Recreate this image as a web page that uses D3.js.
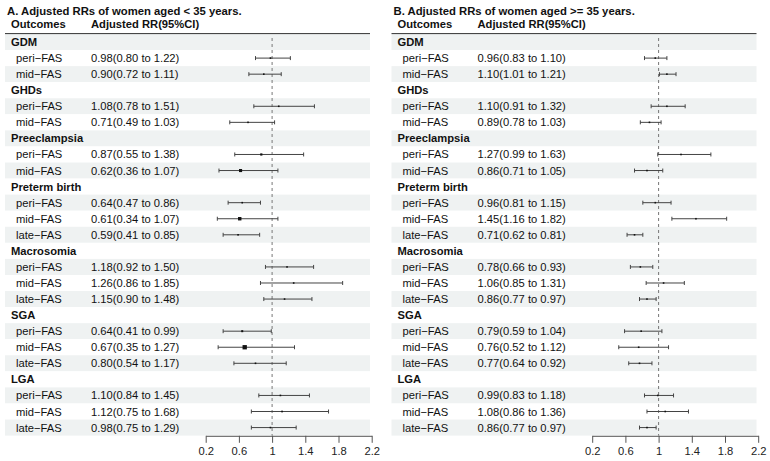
<!DOCTYPE html>
<html>
<head>
<meta charset="utf-8">
<script src="https://cdn.jsdelivr.net/npm/d3@7"></script>
<style>
  body { margin: 0; background: #fff; }
  svg text { font-family: "Liberation Sans", Arial, Helvetica, sans-serif; }
</style>
</head>
<body>
<svg id="chart" width="770" height="461"></svg>
<script>
// outcome groups and how many exposure rows sit under each
var groups = ["GDM", "GHDs", "Preeclampsia", "Preterm birth", "Macrosomia", "SGA", "LGA"];
var groupSizes = [2, 2, 2, 3, 3, 3, 3];
var exposures = ["peri\u2212FAS", "mid\u2212FAS", "late\u2212FAS"];

var titles = ["A. Adjusted RRs of women aged < 35 years.",
              "B. Adjusted RRs of women aged >= 35 years."];

// panel A: women aged < 35
var estA = [0.98, 0.90, 1.08, 0.71, 0.87, 0.62, 0.64, 0.61, 0.59, 1.18, 1.26, 1.15, 0.64, 0.67, 0.80, 1.10, 1.12, 0.98];
var lowA = [0.80, 0.72, 0.78, 0.49, 0.55, 0.36, 0.47, 0.34, 0.41, 0.92, 0.86, 0.90, 0.41, 0.35, 0.54, 0.84, 0.75, 0.75];
var upA  = [1.22, 1.11, 1.51, 1.03, 1.38, 1.07, 0.86, 1.07, 0.85, 1.50, 1.85, 1.48, 0.99, 1.27, 1.17, 1.45, 1.68, 1.29];

// panel B: women aged >= 35
var estB = [0.96, 1.10, 1.10, 0.89, 1.27, 0.86, 0.96, 1.45, 0.71, 0.78, 1.06, 0.86, 0.79, 0.76, 0.77, 0.99, 1.08, 0.86];
var lowB = [0.83, 1.01, 0.91, 0.78, 0.99, 0.71, 0.81, 1.16, 0.62, 0.66, 0.85, 0.77, 0.59, 0.52, 0.64, 0.83, 0.86, 0.77];
var upB  = [1.10, 1.21, 1.32, 1.03, 1.63, 1.05, 1.15, 1.82, 0.81, 0.93, 1.31, 0.97, 1.04, 1.12, 0.92, 1.18, 1.36, 0.97];

var tickVals = [0.2, 0.6, 1, 1.4, 1.8, 2.2];

var svg = d3.select("#chart");
var fmt = d3.format(".2f");

function buildRows(est, low, up) {
    var rows = [], k = 0;
    groups.forEach(function(g, gi) {
        rows.push({ label: g, group: true });
        for (var j = 0; j < groupSizes[gi]; j++) {
            rows.push({ label: exposures[j], est: est[k], low: low[k], up: up[k] });
            k++;
        }
    });
    return rows;
}

function drawPanel(x0, title, rows) {
    var g = svg.append("g").attr("transform", "translate(" + x0 + ",0)");
    var panelW = 365;

    var y = d3.scaleBand()
        .domain(d3.range(rows.length))
        .range([34, 435.6]);

    var x = d3.scaleLinear()
        .domain([0.2, 2.2])
        .range([200.7, 366.7]);

    // title + header
    g.append("text").attr("x", 2).attr("y", 15)
        .style("font-size", "11.3px").style("font-weight", "bold").attr("fill", "#111")
        .text(title);
    g.append("text").attr("x", 6).attr("y", 28)
        .style("font-size", "11.2px").style("font-weight", "bold").attr("fill", "#111")
        .text("Outcomes");
    g.append("text").attr("x", 86).attr("y", 28)
        .style("font-size", "11.2px").style("font-weight", "bold").attr("fill", "#111")
        .text("Adjusted RR(95%CI)");

    // alternating row background
    g.selectAll("rect.band").data(rows).enter().append("rect")
        .attr("class", "band")
        .attr("x", 0)
        .attr("y", function(d, i) { return y(i); })
        .attr("width", panelW)
        .attr("height", y.bandwidth())
        .attr("fill", function(d, i) { return i % 2 === 0 ? "#eff2f2" : "#fff"; });

    g.append("line")
        .attr("x1", 0).attr("x2", panelW)
        .attr("y1", 33.6).attr("y2", 33.6)
        .attr("stroke", "#333").attr("stroke-width", 1);

    // label columns
    g.selectAll("text.lab").data(rows).enter().append("text")
        .attr("class", "lab")
        .attr("x", function(d) { return d.group ? 6 : 11; })
        .attr("y", function(d, i) { return y(i) + y.bandwidth() / 2 + 4; })
        .style("font-size", "11.2px")
        .style("font-weight", function(d) { return d.group ? "bold" : "normal"; })
        .attr("fill", "#111")
        .text(function(d) { return d.label; });

    var data = rows.map(function(d, i) { return Object.assign({ i: i }, d); })
        .filter(function(d) { return !d.group; });

    g.selectAll("text.val").data(data).enter().append("text")
        .attr("class", "val")
        .attr("x", 86)
        .attr("y", function(d) { return y(d.i) + y.bandwidth() / 2 + 4; })
        .style("font-size", "11.2px")
        .attr("fill", "#111")
        .text(function(d) { return fmt(d.est) + "(" + fmt(d.low) + " to " + fmt(d.up) + ")"; });

    // reference line at RR = 1
    g.append("line")
        .attr("x1", x(1)).attr("x2", x(1))
        .attr("y1", 38).attr("y2", 435.6)
        .attr("stroke", "#777").attr("stroke-width", 1)
        .attr("stroke-dasharray", "3,3");

    // confidence intervals
    var ci = g.selectAll("g.ci").data(data).enter().append("g")
        .attr("class", "ci")
        .attr("transform", function(d) { return "translate(0," + (y(d.i) + y.bandwidth() / 2) + ")"; });

    ci.append("line")
        .attr("x1", function(d) { return x(d.low); })
        .attr("x2", function(d) { return x(d.up); })
        .attr("stroke", "#444").attr("stroke-width", 1);
    ci.append("line")
        .attr("x1", function(d) { return x(d.low); })
        .attr("x2", function(d) { return x(d.low); })
        .attr("y1", -2).attr("y2", 2)
        .attr("stroke", "#444").attr("stroke-width", 1);
    ci.append("line")
        .attr("x1", function(d) { return x(d.up); })
        .attr("x2", function(d) { return x(d.up); })
        .attr("y1", -2).attr("y2", 2)
        .attr("stroke", "#444").attr("stroke-width", 1);

    // point size grows with the standard error
    function side(d) {
        var se = (Math.log(d.up) - Math.log(d.low)) / 3.92;
        return Math.max(1.6, 40 * se * se);
    }
    ci.append("rect")
        .attr("x", function(d) { return x(d.est) - side(d) / 2; })
        .attr("y", function(d) { return -side(d) / 2; })
        .attr("width", side)
        .attr("height", side)
        .attr("fill", "#111");

    // x axis
    var axis = g.append("g")
        .attr("transform", "translate(0,435.8)")
        .call(d3.axisBottom(x).tickValues(tickVals).tickFormat(d3.format("~g"))
            .tickSize(7).tickSizeOuter(0));
    axis.select(".domain").attr("stroke", "#555");
    axis.selectAll(".tick line").attr("stroke", "#555");
    axis.selectAll(".tick text")
        .attr("y", 11)
        .style("font-size", "11.2px")
        .style("font-family", "'Liberation Sans', Arial, sans-serif")
        .attr("fill", "#222");
}

drawPanel(5, titles[0], buildRows(estA, lowA, upA));
drawPanel(391.5, titles[1], buildRows(estB, lowB, upB));
</script>
</body>
</html>
